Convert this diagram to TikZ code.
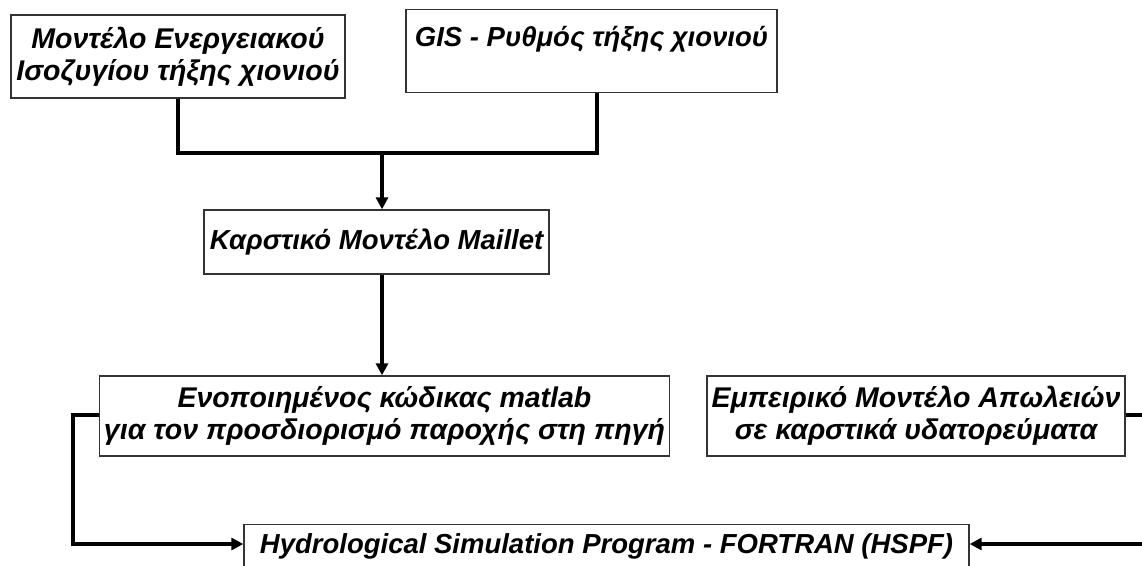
\documentclass[tikz,border=0pt]{standalone}
\usepackage{fontspec}
\setmainfont{Liberation Sans}
\usetikzlibrary{arrows.meta}
\begin{document}
\begin{tikzpicture}[x=1pt,y=-1pt,
  boxfont/.style={font=\fontsize{27.5}{32}\selectfont\bfseries\itshape},
  widefont/.style={font=\fontsize{28.5}{32}\selectfont\bfseries\itshape},
  frame/.style={draw=black!80,line width=1.3pt,fill=white,inner sep=0pt},
  box/.style={frame,align=center,boxfont},
  link/.style={line width=3.8pt,line cap=butt},
  arr/.style={link,-{Triangle[length=12pt,width=12pt]}}]
\useasboundingbox (0,0) rectangle (1142,565);
\clip (0,0) rectangle (1142,565);
\fill[white] (0,0) rectangle (1142,565);

% model boxes
\node[box,widefont,minimum width=334pt,minimum height=83pt] (energy) at (178,56.5)
  {Μοντέλο Ενεργειακού\\Ισοζυγίου τήξης χιονιού};
\node[frame,boxfont,minimum width=371pt,text height=37pt,text depth=46pt] (gis) at (591.5,51)
  {GIS - Ρυθμός τήξης χιονιού};
\node[box,minimum width=345pt,minimum height=64pt] (karst) at (376.5,242)
  {Καρστικό Μοντέλο Maillet};
\node[box,widefont,minimum width=570pt,minimum height=80pt] (matlab) at (384.5,416)
  {Ενοποιημένος κώδικας matlab\\για τον προσδιορισμό παροχής στη πηγή};
\node[box,widefont,minimum width=418pt,minimum height=80pt] (loss) at (916,416)
  {Εμπειρικό Μοντέλο Απωλειών\\σε καρστικά υδατορεύματα};
\node[box,minimum width=725pt,minimum height=44pt,anchor=north] (hspf) at (606.5,524)
  {Hydrological Simulation Program - FORTRAN (HSPF)};

% junction below the two snow-melt models
\coordinate (join) at (382,153);
\coordinate (gisdrop) at (597,153);
\coordinate (leftrail) at (73,415);
\coordinate (rightrail) at (1160,415);

% connectors
\draw[link] (energy.south) -- (energy.south |- join) -- (gisdrop) -- (gisdrop |- gis.south);
\draw[arr] (join) -- (join |- karst.north);
\draw[arr] (join |- karst.south) -- (join |- matlab.north);
\draw[arr] (matlab.west |- leftrail) -- (leftrail) -- (73,544) -- (hspf.west |- 0,544);
\draw[arr] (loss.east |- rightrail) -- (rightrail) -- (1160,544) -- (hspf.east |- 0,544);
\end{tikzpicture}
\end{document}
